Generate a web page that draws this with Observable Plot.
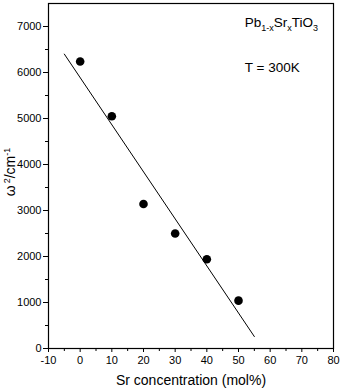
<!DOCTYPE html>
<html><head><meta charset="utf-8">
<script src="https://cdn.jsdelivr.net/npm/d3@7"></script>
<script src="https://cdn.jsdelivr.net/npm/@observablehq/plot@0.6"></script>
<style>body{margin:0;background:#fff}</style>
</head><body><div id="chart"></div>
<script>
// Data
const srConcentration = [0, 10, 20, 30, 40, 50];
const omegaSquared = [6240, 5050, 3140, 2500, 1940, 1040];
const fitX = [-5, 55];
const fitY = [6400, 260];
const xTicks = [-10, 0, 10, 20, 30, 40, 50, 60, 70, 80];
const xMinorTicks = [-5, 5, 15, 25, 35, 45, 55, 65, 75];
const yTicks = [0, 1000, 2000, 3000, 4000, 5000, 6000, 7000];
const yMinorTicks = [500, 1500, 2500, 3500, 4500, 5500, 6500];
const xTitle = "Sr concentration (mol%)";
const yTitle = "ω^{2}/cm^{-1}";
const annotationLabels = ["Pb_{1-x}Sr_{x}TiO_{3}", "T = 300K"];
const annotationX = [52, 52];
const annotationY = [7090, 6110];

const points = srConcentration.map((x, i) => ({x, y: omegaSquared[i]}));
const fit = fitX.map((x, i) => ({x, y: fitY[i]}));
const annotations = annotationLabels.map((label, i) => ({label, x: annotationX[i], y: annotationY[i]}));

const font = "'Liberation Sans', Arial, Helvetica, sans-serif";
const fmt = d => String(d);

const chart = Plot.plot({
  width: 342, height: 390,
  marginLeft: 48, marginRight: 9, marginTop: 3, marginBottom: 42,
  x: {domain: [-10, 80]},
  y: {domain: [0, 7500]},
  style: {fontFamily: font, fontSize: "11px", background: "white", color: "black"},
  marks: [
    Plot.axisX(xTicks, {tickSize: 4, tickPadding: 4, fontSize: 11, tickFormat: fmt, label: null, stroke: "black"}),
    Plot.axisX(xMinorTicks, {tickSize: 3, tickFormat: () => "", label: null, stroke: "black"}),
    Plot.axisY(yTicks, {tickSize: 5, tickPadding: 2, fontSize: 11, tickFormat: fmt, label: null, stroke: "black"}),
    Plot.axisY(yMinorTicks, {tickSize: 3, tickFormat: () => "", label: null, stroke: "black"}),
    Plot.line(fit, {x: "x", y: "y", stroke: "black", strokeWidth: 1}),
    Plot.dot(points, {x: "x", y: "y", r: 4.3, fill: "black", stroke: null}),
    Plot.text(annotations, {x: "x", y: "y", text: "label", textAnchor: "start", fontSize: 13.5, fill: "black"}),
    Plot.text([xTitle], {frameAnchor: "bottom", dy: 36, fontSize: 14, fill: "black"}),
    Plot.text([yTitle], {frameAnchor: "left", textAnchor: "middle", rotate: -90, dx: -38, fontSize: 14, fill: "black"}),
    Plot.frame({stroke: "black", strokeWidth: 1.2})
  ]
});
document.getElementById("chart").appendChild(chart);

// Convert _{..} / ^{..} markup into real sub/superscript tspans
d3.select(chart).selectAll("text").each(function() {
  const s = this.textContent;
  if (!/[_^]\{/.test(s)) return;
  const anchor = getComputedStyle(this).textAnchor;
  const parts = [];
  const re = /([_^])\{([^}]*)\}|([^_^]+)/g;
  let m;
  while ((m = re.exec(s))) {
    if (m[3]) parts.push({t: m[3], k: 0});
    else parts.push({t: m[2], k: m[1] === "_" ? 1 : -1});
  }
  const el = d3.select(this);
  el.text(null);
  let shift = 0;
  for (const p of parts) {
    const target = p.k === 0 ? 0 : (p.k === 1 ? 4 : -5);
    const ts = el.append("tspan").text(p.t).attr("dy", target - shift);
    if (p.k !== 0) ts.attr("font-size", 9);
    if (p.k === -1 && p.t === "2") ts.attr("dx", 2);
    shift = target;
  }
  if (anchor === "middle") {
    const len = this.getComputedTextLength();
    const x0 = +(this.getAttribute("x") || 0);
    el.attr("text-anchor", "start").attr("x", x0 - len / 2 + 3);
  }
});
</script></body></html>
